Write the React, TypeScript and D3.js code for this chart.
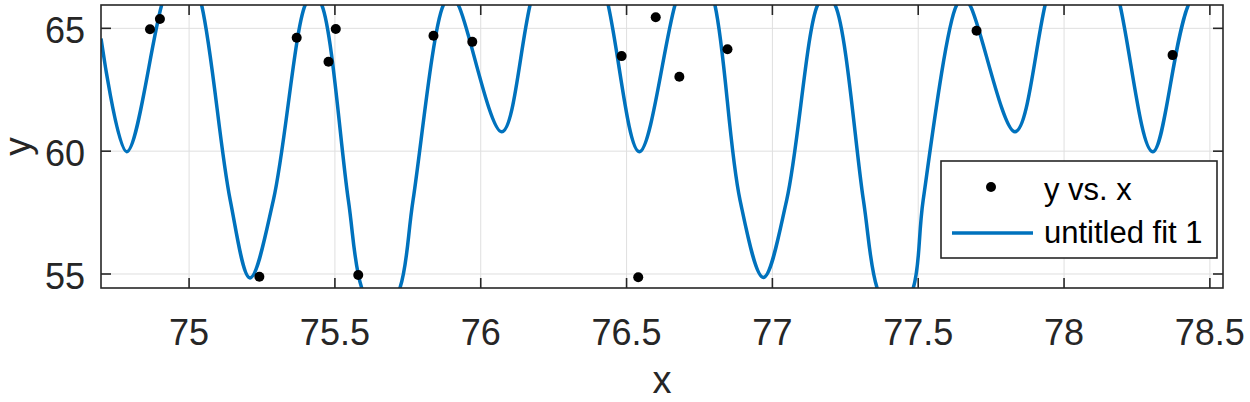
import React from "react";
import * as d3 from "d3";

// ---- data ----
const dataX = [74.866, 74.900, 75.241, 75.369, 75.478, 75.503, 75.580, 75.838, 75.971, 76.483, 76.540, 76.600, 76.681, 76.846, 77.700, 78.372];
const dataY = [64.96, 65.38, 54.89, 64.62, 63.64, 64.97, 54.96, 64.70, 64.45, 63.87, 54.87, 65.45, 63.03, 64.15, 64.90, 63.91];

// key points along the fitted curve ("untitled fit 1")
const fitX = [74.698, 74.786, 74.906, 74.975, 75.043, 75.141, 75.209, 75.289, 75.398, 75.426, 75.455, 75.546, 75.592, 75.658, 75.723, 75.768, 75.872, 75.898, 75.923, 76.072, 76.169, 76.303, 76.437, 76.544, 76.666, 76.735, 76.803, 76.889, 76.969, 77.049, 77.155, 77.184, 77.215, 77.312, 77.359, 77.420, 77.483, 77.517, 77.632, 77.654, 77.677, 77.832, 77.935, 78.063, 78.192, 78.304, 78.426, 78.545];
const fitY = [64.59, 59.98, 65.95, 68.5, 65.95, 58.01, 54.84, 58.01, 65.95, 66.4, 65.95, 58.01, 54.43, 53.0, 54.43, 58.01, 65.95, 66.3, 65.95, 60.79, 65.95, 73.0, 65.95, 59.98, 65.95, 68.5, 65.95, 58.01, 54.86, 58.01, 65.95, 66.35, 65.95, 58.01, 54.43, 53.0, 54.43, 58.01, 65.95, 66.2, 65.95, 60.79, 65.95, 73.0, 65.95, 59.98, 65.95, 68.3];

const xTicks = [75, 75.5, 76, 76.5, 77, 77.5, 78, 78.5];
const yTicks = [55, 60, 65];
const xDomain = [74.698, 78.545];
const yDomain = [54.43, 65.95];
const legendLabels = ["y vs. x", "untitled fit 1"];

const W = 1250, H = 402;
const L = 101, R = 1223, T = 5, B = 288;
const FONT = "'Liberation Sans', Arial, Helvetica, sans-serif";
const AX = "#262626";
const GRID = "#dfdfdf";
const BLUE = "#0072BD";

export default function App() {
  const x = d3.scaleLinear().domain(xDomain).range([L, R]);
  const y = d3.scaleLinear().domain(yDomain).range([B, T]);
  const pts = fitX.map((v, i) => [x(v), y(fitY[i])] as [number, number]);
  const line = d3.line().curve(d3.curveCatmullRom.alpha(0.5))(pts) || "";
  const tick = 10;

  return (
    <svg width={W} height={H} style={{ position: "absolute", left: 0, top: 0, background: "#fff" }} fontFamily={FONT}>
      <defs>
        <clipPath id="plotclip">
          <rect x={L} y={T} width={R - L} height={B - T} />
        </clipPath>
      </defs>
      <rect x={0} y={0} width={W} height={H} fill="#fff" />
      {/* grid */}
      {xTicks.map((t) => (
        <line key={"gx" + t} x1={x(t)} x2={x(t)} y1={T} y2={B} stroke={GRID} strokeWidth={1} />
      ))}
      {yTicks.map((t) => (
        <line key={"gy" + t} x1={L} x2={R} y1={y(t)} y2={y(t)} stroke={GRID} strokeWidth={1} />
      ))}
      {/* fit curve */}
      <g clipPath="url(#plotclip)">
        <path d={line} fill="none" stroke={BLUE} strokeWidth={3.5} strokeLinejoin="round" />
        {dataX.map((v, i) => (
          <circle key={"p" + i} cx={x(v)} cy={y(dataY[i])} r={5} fill="#000" />
        ))}
      </g>
      {/* box */}
      <rect x={L} y={T} width={R - L} height={B - T} fill="none" stroke={AX} strokeWidth={1.6} />
      {/* ticks */}
      {xTicks.map((t) => (
        <g key={"tx" + t}>
          <line x1={x(t)} x2={x(t)} y1={B} y2={B - tick} stroke={AX} strokeWidth={1.6} />
          <line x1={x(t)} x2={x(t)} y1={T} y2={T + tick} stroke={AX} strokeWidth={1.6} />
          <text x={x(t)} y={345} textAnchor="middle" fontSize={36} fill={AX}>{String(t)}</text>
        </g>
      ))}
      {yTicks.map((t) => (
        <g key={"ty" + t}>
          <line x1={L} x2={L + tick} y1={y(t)} y2={y(t)} stroke={AX} strokeWidth={1.6} />
          <line x1={R} x2={R - tick} y1={y(t)} y2={y(t)} stroke={AX} strokeWidth={1.6} />
          <text x={85} y={y(t) + 15} textAnchor="end" fontSize={36} fill={AX}>{String(t)}</text>
        </g>
      ))}
      {/* axis labels */}
      <text x={(L + R) / 2} y={393} textAnchor="middle" fontSize={38} fill={AX}>x</text>
      <text transform={`translate(30, ${(T + B) / 2}) rotate(-90)`} textAnchor="middle" fontSize={37} fill={AX}>y</text>
      {/* legend */}
      <rect x={941} y={161} width={276} height={97} fill="#fff" stroke={AX} strokeWidth={1.6} />
      <circle cx={991} cy={187} r={5} fill="#000" />
      <text x={1044} y={200} fontSize={31} fill="#000">{legendLabels[0]}</text>
      <line x1={952} x2={1033} y1={233} y2={233} stroke={BLUE} strokeWidth={3.5} />
      <text x={1044} y={242.5} fontSize={31} fill="#000">{legendLabels[1]}</text>
    </svg>
  );
}
